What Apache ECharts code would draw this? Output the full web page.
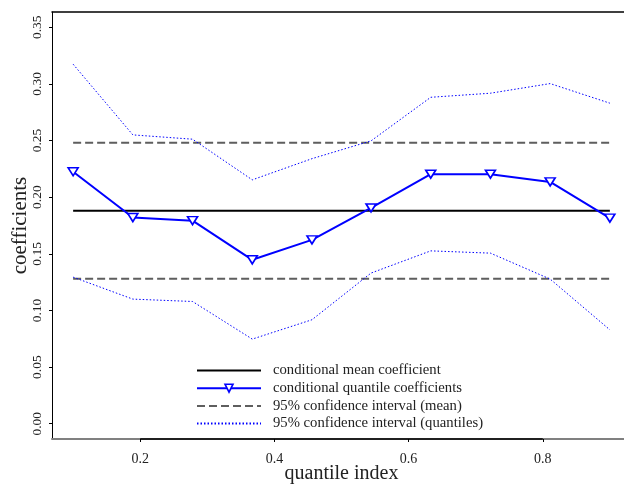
<!DOCTYPE html>
<html>
<head>
<meta charset="utf-8">
<script src="https://cdn.jsdelivr.net/npm/echarts@6/dist/echarts.min.js"></script>
<style>
  html, body { margin: 0; padding: 0; background: #fff; }
  #chart { width: 624px; height: 487px; }
</style>
</head>
<body>
<div id="chart"></div>
<script>
// Quantile regression coefficients vs. OLS estimate
var quantiles = [0.1, 0.189, 0.278, 0.367, 0.456, 0.544, 0.633, 0.722, 0.811, 0.9];
var quantCoef = [0.2225, 0.182, 0.1793, 0.1447, 0.1623, 0.1905, 0.2203, 0.2203, 0.2135, 0.1815];
var quantUpper = [0.3174, 0.255, 0.2512, 0.2153, 0.234, 0.2497, 0.2882, 0.2918, 0.3003, 0.2830];
var quantLower = [0.1294, 0.1100, 0.1079, 0.0747, 0.0918, 0.1330, 0.1526, 0.1506, 0.1277, 0.0829];
var meanCoef = 0.188;
var meanUpper = 0.248;
var meanLower = 0.128;
var xTicks = [0.2, 0.4, 0.6, 0.8];
var yTicks = [0.00, 0.05, 0.10, 0.15, 0.20, 0.25, 0.30, 0.35];

var xMin = 0.0685, xMax = 0.9315;
var yMin = -0.0135, yMax = 0.3635;

var FONT = 'Liberation Serif';
var BLUE = '#0000ff';
var GREY = '#5e5e5e';

function pairs(xs, ys) {
  return xs.map(function (x, i) { return [x, ys[i]]; });
}
function flat(v) {
  return [[quantiles[0], v], [quantiles[quantiles.length - 1], v]];
}

var chart = echarts.init(document.getElementById('chart'), null, { renderer: 'canvas' });

var noSymbol = { opacity: 0 };

chart.setOption({
  animation: false,
  backgroundColor: '#ffffff',
  grid: { left: 52, right: -7, top: 12, bottom: 48, containLabel: false, outerBoundsMode: 'none' },
  xAxis: [
    {
      type: 'value', min: xMin, max: xMax, position: 'bottom',
      axisLine: { show: true, onZero: false, lineStyle: { color: '#808080', width: 2 } },
      axisTick: { show: true, customValues: xTicks, length: 3, lineStyle: { color: '#000', width: 1 } },
      axisLabel: {
        customValues: xTicks, margin: 13,
        formatter: function (v) { return v.toFixed(1); },
        fontFamily: FONT, fontSize: 14, color: '#222'
      },
      splitLine: { show: false },
      name: 'quantile index', nameLocation: 'middle', nameGap: 25, nameMoveOverlap: false,
      nameTextStyle: { fontFamily: FONT, fontSize: 20, color: '#222' }
    },
    {
      type: 'value', min: xMin, max: xMax, position: 'top',
      axisLine: { show: true, onZero: false, lineStyle: { color: '#000', width: 1.5 } },
      axisTick: { show: false }, axisLabel: { show: false }, splitLine: { show: false }
    }
  ],
  yAxis: {
    type: 'value', min: yMin, max: yMax,
    axisLine: { show: true, onZero: false, lineStyle: { color: '#000', width: 1 } },
    axisTick: { show: true, customValues: yTicks, length: 3, lineStyle: { color: '#000', width: 1 } },
    axisLabel: {
      customValues: yTicks, rotate: 90, margin: 8,
      formatter: function (v) { return v.toFixed(2); },
      fontFamily: FONT, fontSize: 13.5, color: '#222'
    },
    splitLine: { show: false },
    name: 'coefficients', nameLocation: 'middle', nameRotate: 90, nameGap: 21, nameMoveOverlap: false,
    nameTextStyle: { fontFamily: FONT, fontSize: 21, color: '#222' }
  },
  legend: {
    orient: 'vertical', left: 191, top: 358,
    itemWidth: 64, itemHeight: 10, itemGap: 2.7,
    data: [
      { name: 'conditional mean coefficient', itemStyle: noSymbol },
      { name: 'conditional quantile coefficients',
        itemStyle: { color: '#fff', borderColor: BLUE, borderWidth: 1.6 } },
      { name: '95% confidence interval (mean)', itemStyle: noSymbol },
      { name: '95% confidence interval (quantiles)', itemStyle: noSymbol }
    ],
    textStyle: { fontFamily: FONT, fontSize: 14.7, color: '#222', padding: [0, 0, 0, 7], lineHeight: 14 }
  },
  series: [
    {
      // dark segment of the bottom axis between the outer ticks
      name: 'axis-range', type: 'line', silent: true, clip: false, symbol: 'none',
      data: [[xTicks[0], yMin], [xTicks[xTicks.length - 1], yMin]],
      lineStyle: { color: '#000', width: 1.5 }, z: 5
    },
    {
      name: 'conditional mean coefficient', type: 'line', symbol: 'none',
      data: flat(meanCoef),
      lineStyle: { color: '#000', width: 2 }, itemStyle: { color: '#000' }
    },
    {
      name: 'conditional quantile coefficients', type: 'line',
      data: pairs(quantiles, quantCoef),
      symbol: 'triangle', symbolRotate: 180, symbolSize: [10, 8], showAllSymbol: true,
      lineStyle: { color: BLUE, width: 2 },
      itemStyle: { color: '#fff', borderColor: BLUE, borderWidth: 1.6 }, z: 4
    },
    {
      name: '95% confidence interval (mean)', type: 'line', symbol: 'none',
      data: flat(meanUpper),
      lineStyle: { color: GREY, width: 2, type: [8, 4] }, itemStyle: { color: GREY }
    },
    {
      name: '95% confidence interval (mean)', type: 'line', symbol: 'none',
      data: flat(meanLower),
      lineStyle: { color: GREY, width: 2, type: [8, 4] }, itemStyle: { color: GREY }
    },
    {
      name: '95% confidence interval (quantiles)', type: 'line', symbol: 'none',
      data: pairs(quantiles, quantUpper),
      lineStyle: { color: BLUE, width: 1, type: [1.5, 2] }, itemStyle: { color: BLUE }
    },
    {
      name: '95% confidence interval (quantiles)', type: 'line', symbol: 'none',
      data: pairs(quantiles, quantLower),
      lineStyle: { color: BLUE, width: 1, type: [1.5, 2] }, itemStyle: { color: BLUE }
    }
  ]
});
</script>
</body>
</html>
